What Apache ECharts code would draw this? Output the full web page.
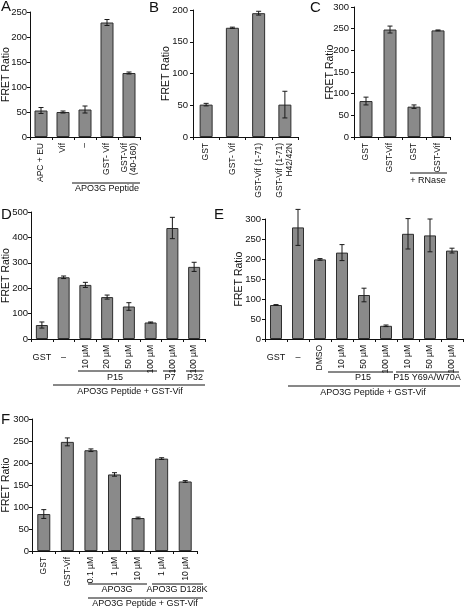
<!DOCTYPE html>
<html><head><meta charset="utf-8">
<script src="https://cdn.jsdelivr.net/npm/echarts@6/dist/echarts.min.js"></script>
<style>html,body{margin:0;padding:0;background:#fff}#c{width:464px;height:610px}</style>
</head><body><div id="c"></div>
<script>
// ---- data ----
const catsA = ['APC + EU', 'Vif', '–', 'GST- Vif', 'GST-Vif\n(40-160)'];
const valsA = [53, 50, 55, 229, 128];
const errsA = [6, 2, 7, 6, 2];

const catsB = ['GST', 'GST- Vif', 'GST-Vif (1-71)', 'GST-Vif (1-71)\nH42/42N'];
const valsB = [51, 172, 195, 51];
const errsB = [2, 1, 3, 21];

const catsC = ['GST', 'GST-Vif', 'GST', 'GST-Vif'];
const valsC = [83, 248, 70, 246];
const errsC = [9, 8, 4, 1];

const catsD = ['GST', '–', '10 µM', '20 µM', '50 µM', '100 µM', '100 µM', '100 µM'];
const valsD = [55, 243, 213, 165, 128, 65, 437, 284];
const errsD = [12, 5, 10, 8, 15, 2, 42, 18];

const catsE = ['GST', '–', 'DMSO', '10 µM', '50 µM', '100 µM', '10 µM', '50 µM', '100 µM'];
const valsE = [85, 279, 199, 216, 110, 33, 263, 259, 221];
const errsE = [1, 45, 2, 20, 17, 2, 38, 41, 6];

const catsF = ['GST', 'GST-Vif', '0.1 µM', '1 µM', '10 µM', '1 µM', '10 µM'];
const valsF = [84, 248, 229, 174, 75, 210, 158];
const errsF = [10, 9, 3, 4, 2, 2, 2];

const yMax = [250, 200, 300, 500, 300, 300];
const yStep = [50, 50, 50, 100, 50, 50];
const horizontalCats = ['GST', '–'];  // in panels D and E these are written horizontally

// ---- layout ----
const FONT = 'Liberation Sans';
const panels = [
  {cats: catsA, vals: valsA, errs: errsA, grid: {left: 30, top: 12, width: 110, height: 125}, bw: 13, gap: 18, lm: 3, horiz: false},
  {cats: catsB, vals: valsB, errs: errsB, grid: {left: 193, top: 10, width: 105, height: 127}, bw: 13, gap: 21, lm: 5, horiz: false},
  {cats: catsC, vals: valsC, errs: errsC, grid: {left: 354, top: 7, width: 96, height: 130}, bw: 13, gap: 18, lm: 5, horiz: false},
  {cats: catsD, vals: valsD, errs: errsD, grid: {left: 31, top: 212, width: 174, height: 127}, bw: 12, gap: 19, lm: 3, horiz: true},
  {cats: catsE, vals: valsE, errs: errsE, grid: {left: 265, top: 219, width: 198, height: 120}, bw: 12, gap: 20, lm: 4, horiz: true},
  {cats: catsF, vals: valsF, errs: errsF, grid: {left: 32, top: 419, width: 165, height: 132}, bw: 13, gap: 20, lm: 3, horiz: false}
];

const grids = [], xAxes = [], yAxes = [], series = [];
const axisLineStyle = {color: '#111', width: 1};
panels.forEach((p, i) => {
  grids.push(Object.assign({containLabel: false, outerBoundsMode: 'none'}, p.grid));
  const gi = i;
  const mainX = xAxes.length;
  xAxes.push({
    type: 'category', gridIndex: gi, data: p.cats, position: 'bottom',
    axisLine: {lineStyle: axisLineStyle},
    axisTick: {show: true, length: 3, lineStyle: axisLineStyle},
    axisLabel: {
      interval: 0, rotate: 90, margin: 6, color: '#111', fontFamily: FONT, fontSize: 8.5, lineHeight: 9.5,
      hideOverlap: false,
      formatter: v => (p.horiz && horizontalCats.includes(v)) ? '' : v
    }
  });
  if (p.horiz) {
    xAxes.push({
      type: 'category', gridIndex: gi, data: p.cats, position: 'bottom', offset: 0,
      axisLine: {show: false}, axisTick: {show: false}, splitLine: {show: false},
      axisLabel: {
        interval: 0, rotate: 0, margin: 14, color: '#111', fontFamily: FONT, fontSize: 9,
        formatter: v => horizontalCats.includes(v) ? v : ''
      }
    });
  }
  yAxes.push({
    type: 'value', gridIndex: gi, min: 0, max: yMax[i], interval: yStep[i],
    name: 'FRET Ratio', nameLocation: 'middle', nameGap: p.gap, nameRotate: 90, nameMoveOverlap: false,
    nameTextStyle: {fontFamily: FONT, fontSize: 10.5, color: '#111'},
    axisLine: {show: true, lineStyle: axisLineStyle},
    axisTick: {show: true, length: 3, lineStyle: axisLineStyle},
    splitLine: {show: false},
    axisLabel: {color: '#111', fontFamily: FONT, fontSize: 9.5, margin: p.lm}
  });
  series.push({
    type: 'bar', xAxisIndex: mainX, yAxisIndex: i, data: p.vals, barWidth: p.bw,
    itemStyle: {color: '#8a8a8a', borderColor: '#2e2e2e', borderWidth: 1},
    silent: true, animation: false
  });
  series.push({
    type: 'custom', xAxisIndex: mainX, yAxisIndex: i, z: 10, animation: false, silent: true,
    data: p.vals.map((v, k) => [k, v - p.errs[k], v + p.errs[k]]),
    encode: {x: 0, y: [1, 2]},
    renderItem(params, api) {
      const lo = api.coord([api.value(0), api.value(1)]);
      const hi = api.coord([api.value(0), api.value(2)]);
      const w = 2.5, st = {stroke: '#1a1a1a', lineWidth: 1};
      return {type: 'group', children: [
        {type: 'line', shape: {x1: lo[0], y1: lo[1], x2: hi[0], y2: hi[1]}, style: st},
        {type: 'line', shape: {x1: lo[0] - w, y1: lo[1], x2: lo[0] + w, y2: lo[1]}, style: st},
        {type: 'line', shape: {x1: hi[0] - w, y1: hi[1], x2: hi[0] + w, y2: hi[1]}, style: st}
      ]};
    }
  });
});

// ---- annotations (group brackets and panel letters) ----
const g = [];
function hline(x1, x2, y) {
  g.push({type: 'line', shape: {x1, y1: y, x2, y2: y}, style: {stroke: '#111', lineWidth: 1}, silent: true});
}
function txt(x, y, s, size) {
  g.push({type: 'text', x, y, style: {text: s, fontFamily: FONT, fontSize: size || 9, fill: '#111', align: 'center', verticalAlign: 'middle'}, silent: true});
}
function letter(x, y, s) {
  g.push({type: 'text', x, y, style: {text: s, fontFamily: FONT, fontSize: 15, fill: '#111', align: 'left', verticalAlign: 'top'}, silent: true});
}
letter(1, -1, 'A'); letter(149, 0, 'B'); letter(310, 0, 'C');
letter(1, 207, 'D'); letter(214, 207, 'E'); letter(1, 412, 'F');

// A
hline(72, 140, 183); txt(107, 189, 'APO3G Peptide');
// C
hline(410, 447, 173); txt(428, 181, '+ RNase');
// D
hline(78, 157, 371); hline(163, 176, 371); hline(186, 204, 371);
txt(115, 378, 'P15'); txt(170, 378, 'P7'); txt(195, 378, 'P32');
hline(53, 205, 385); txt(130, 392, 'APO3G Peptide + GST-Vif');
// E
hline(328, 393, 372); hline(396, 459, 372);
txt(363, 378, 'P15'); txt(427, 378, 'P15 Y69A/W70A');
hline(288, 460, 386); txt(373, 393, 'APO3G Peptide + GST-Vif');
// F
hline(88, 147, 584); hline(152, 203, 584);
txt(117, 590, 'APO3G'); txt(177, 590, 'APO3G D128K');
hline(88, 203, 598); txt(145, 604, 'APO3G Peptide + GST-Vif');

const chart = echarts.init(document.getElementById('c'), null, {renderer: 'canvas'});
chart.setOption({
  backgroundColor: '#fff', animation: false,
  grid: grids, xAxis: xAxes, yAxis: yAxes, series: series, graphic: g
});
</script></body></html>
